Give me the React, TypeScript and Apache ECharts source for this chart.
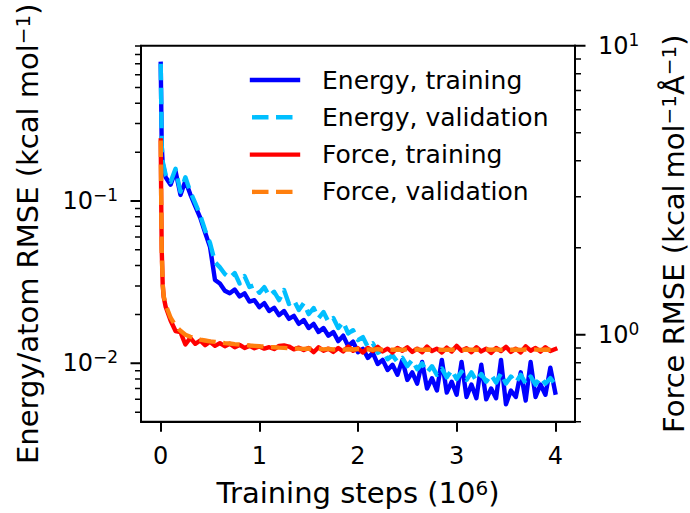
import React, { useEffect, useRef } from "react";
import * as echarts from "echarts";

const FONT = "DejaVu Sans";

// Training steps in units of 10^6
const steps = [
  0, 0.005, 0.01, 0.02, 0.03,
  0.05, 0.1, 0.15, 0.2, 0.25, 0.3, 0.35, 0.4, 0.45, 0.5,
  0.55, 0.6, 0.65, 0.7, 0.75, 0.8, 0.85, 0.9, 0.95, 1,
  1.05, 1.1, 1.15, 1.2, 1.25, 1.3, 1.35, 1.4, 1.45, 1.5,
  1.55, 1.6, 1.65, 1.7, 1.75, 1.8, 1.85, 1.9, 1.95, 2,
  2.05, 2.1, 2.15, 2.2, 2.25, 2.3, 2.35, 2.4, 2.45, 2.5,
  2.55, 2.6, 2.65, 2.7, 2.75, 2.8, 2.85, 2.9, 2.95, 3,
  3.05, 3.1, 3.15, 3.2, 3.25, 3.3, 3.35, 3.4, 3.45, 3.5,
  3.55, 3.6, 3.65, 3.7, 3.75, 3.8, 3.85, 3.9, 3.95, 4,
];

// Energy/atom RMSE (kcal/mol), left axis
const energyTrain = [
  0.7, 0.4, 0.22, 0.17, 0.16,
  0.14, 0.126, 0.153, 0.109, 0.133, 0.11, 0.093, 0.079, 0.064, 0.052,
  0.0326, 0.031, 0.028, 0.027, 0.0285, 0.0258, 0.027, 0.024, 0.0245, 0.0222,
  0.0235, 0.021, 0.022, 0.0198, 0.021, 0.0188, 0.0196, 0.0175, 0.0185, 0.0165,
  0.0175, 0.0156, 0.0165, 0.0148, 0.0156, 0.0137, 0.0148, 0.0128, 0.0136, 0.0117,
  0.0123, 0.0108, 0.0116, 0.0099, 0.0105, 0.0091, 0.0098, 0.0085, 0.0105, 0.0079,
  0.0088, 0.0075, 0.0102, 0.007, 0.0081, 0.0068, 0.0105, 0.0066, 0.0077, 0.0064,
  0.0102, 0.0062, 0.0074, 0.0061, 0.0098, 0.006, 0.007, 0.0061, 0.0105, 0.0056,
  0.0068, 0.0062, 0.0088, 0.0059, 0.0102, 0.0062, 0.0074, 0.0064, 0.0094, 0.0066,
];

const energyVal = [
  0.7, 0.4, 0.22, 0.175, 0.165,
  0.145, 0.131, 0.158, 0.114, 0.14, 0.114, 0.097, 0.082, 0.066, 0.055,
  0.042, 0.039, 0.0355, 0.0336, 0.036, 0.031, 0.0345, 0.0295, 0.0303, 0.0272,
  0.0295, 0.026, 0.0276, 0.0245, 0.0283, 0.0232, 0.0245, 0.0213, 0.0235, 0.0201,
  0.0219, 0.019, 0.0207, 0.018, 0.019, 0.0165, 0.018, 0.0153, 0.016, 0.0139,
  0.0145, 0.0126, 0.0133, 0.0116, 0.0121, 0.0106, 0.0112, 0.0102, 0.0108, 0.0096,
  0.0105, 0.0092, 0.01, 0.0088, 0.0096, 0.0085, 0.0093, 0.0082, 0.0091, 0.008,
  0.0089, 0.0079, 0.0088, 0.0078, 0.0086, 0.0077, 0.0085, 0.0076, 0.0087, 0.0075,
  0.0083, 0.0076, 0.0085, 0.0075, 0.0083, 0.0074, 0.0082, 0.0075, 0.0081, 0.0074,
];

// Force RMSE (kcal/mol/Å), right axis
const forceTrain = [
  4.7, 2.9, 1.97, 1.49, 1.35,
  1.25, 1.12, 1.03, 1.02, 0.925, 0.975, 0.93, 0.955, 0.92, 0.945,
  0.915, 0.935, 0.912, 0.93, 0.905, 0.922, 0.9, 0.915, 0.898, 0.91,
  0.895, 0.905, 0.892, 0.915, 0.918, 0.91, 0.89, 0.902, 0.885, 0.9,
  0.87, 0.905, 0.88, 0.895, 0.872, 0.9, 0.875, 0.91, 0.88, 0.897,
  0.868, 0.9, 0.878, 0.908, 0.875, 0.895, 0.868, 0.9, 0.88, 0.905,
  0.872, 0.895, 0.87, 0.91, 0.878, 0.895, 0.868, 0.902, 0.875, 0.915,
  0.88, 0.898, 0.87, 0.905, 0.875, 0.895, 0.865, 0.9, 0.878, 0.908,
  0.872, 0.895, 0.868, 0.912, 0.88, 0.9, 0.874, 0.905, 0.878, 0.892,
];

const forceVal = [
  4.7, 2.9, 1.97, 1.49, 1.36,
  1.27, 1.145, 1.074, 1.032, 1.0, 0.984, 0.972, 0.962, 0.955, 0.948,
  0.944, 0.94, 0.935, 0.932, 0.928, 0.925, 0.922, 0.918, 0.915, 0.912,
  0.91, 0.906, 0.905, 0.902, 0.9, 0.898, 0.897, 0.895, 0.893, 0.896,
  0.891, 0.894, 0.89, 0.893, 0.889, 0.892, 0.888, 0.891, 0.889, 0.892,
  0.888, 0.89, 0.887, 0.891, 0.888, 0.89, 0.887, 0.889, 0.886, 0.89,
  0.887, 0.889, 0.886, 0.889, 0.887, 0.89, 0.886, 0.888, 0.887, 0.889,
  0.886, 0.889, 0.887, 0.888, 0.886, 0.889, 0.887, 0.89, 0.886, 0.888,
  0.887, 0.889, 0.886, 0.889, 0.887, 0.888, 0.886, 0.889, 0.887, 0.888,
];

// Axis ticks
const xTicks = [0, 1, 2, 3, 4];
const leftMajor = [0.01, 0.1];
const leftMinor = [0.005, 0.006, 0.007, 0.008, 0.009, 0.02, 0.03, 0.04, 0.05, 0.06, 0.07, 0.08, 0.09, 0.2, 0.3, 0.4, 0.5, 0.6, 0.7, 0.8, 0.9];
const rightMajor = [1, 10];
const rightMinor = [0.5, 0.6, 0.7, 0.8, 0.9, 2, 3, 4, 5, 6, 7, 8, 9];
const LEFT_RANGE = [0.00437, 0.905];
const RIGHT_RANGE = [0.5, 10];
const X_RANGE = [-0.2, 4.2];

const legendItems = [
  { name: "Energy, training", color: "#0000ff", dashed: false },
  { name: "Energy, validation", color: "#00bfff", dashed: true },
  { name: "Force, training", color: "#ff0000", dashed: false },
  { name: "Force, validation", color: "#ff7f0e", dashed: true },
];

const EXP: Record<string, string> = { "-2": "−2", "-1": "−1", "0": "0", "1": "1" };
const lg = (v: number) => Math.log10(v);
const pairs = (ys: number[]) => steps.map((x, i) => [x, lg(ys[i])]);

const LW = 4.4;
const DASH = [16.5, 7.5];

export default function App() {
  const ref = useRef<HTMLDivElement>(null);
  useEffect(() => {
    const chart = echarts.init(ref.current!, null, { renderer: "svg" });
    const tickRich = { s: { fontSize: 17, lineHeight: 17, verticalAlign: "top", fontFamily: FONT, color: "#000" } };
    const nameRich = { s: { fontSize: 20, lineHeight: 20, verticalAlign: "top", fontFamily: FONT, color: "#000" } };
    const axisTextStyle = { color: "#000", fontSize: 24, lineHeight: 29, fontFamily: FONT };
    const nameStyle = { color: "#000", fontSize: 29, lineHeight: 30, fontFamily: FONT, rich: nameRich };
    const yBase = (range: number[], position: string) => ({
      type: "value",
      position,
      min: lg(range[0]),
      max: lg(range[1]),
      axisLine: { show: true, onZero: false, lineStyle: { color: "#000", width: 2 } },
      axisTick: { show: false },
      splitLine: { show: false },
    });
    const line = (name: string, ys: number[], color: string, dashed: boolean, yAxisIndex: number, z: number) => ({
      type: "line",
      name,
      data: pairs(ys),
      yAxisIndex,
      xAxisIndex: 0,
      symbol: "none",
      showSymbol: false,
      z,
      lineStyle: { color, width: LW, type: dashed ? DASH : "solid", join: "round", cap: dashed ? "butt" : "square" },
      emphasis: { disabled: true },
    });

    const legendGraphic: any[] = [];
    legendItems.forEach((it, i) => {
      const y = 80 + i * 37.3;
      legendGraphic.push({
        type: "line",
        shape: { x1: 252, y1: y, x2: 298, y2: y },
        style: { stroke: it.color, lineWidth: LW, lineDash: it.dashed ? DASH : null, lineCap: it.dashed ? "butt" : "square" },
        z: 10,
      });
      legendGraphic.push({
        type: "text",
        x: 322,
        y,
        style: { text: it.name, fill: "#000", fontSize: 25, fontFamily: FONT, align: "left", verticalAlign: "middle" },
        z: 10,
      });
    });

    chart.setOption({
      animation: false,
      backgroundColor: "#fff",
      grid: {
        left: 141,
        right: 115,
        top: 45.7,
        bottom: 91.3,
        show: true,
        borderColor: "#000",
        borderWidth: 2,
        backgroundColor: "transparent",
        containLabel: false,
        outerBoundsMode: "none",
      },
      xAxis: [
        {
          type: "value",
          min: X_RANGE[0],
          max: X_RANGE[1],
          axisLine: { show: true, onZero: false, lineStyle: { color: "#000", width: 2 } },
          splitLine: { show: false },
          axisTick: { show: true, length: 10, customValues: xTicks, lineStyle: { color: "#000", width: 2 } },
          axisLabel: { ...axisTextStyle, margin: 20, customValues: xTicks, formatter: (v: number) => String(v) },
          name: "Training steps (10{s|6})",
          nameLocation: "middle",
          nameGap: 56,
          nameTextStyle: nameStyle,
        },
      ],
      yAxis: [
        {
          ...yBase(LEFT_RANGE, "left"),
          axisLabel: {
            ...axisTextStyle,
            rich: tickRich,
            margin: 23,
            customValues: leftMajor.map(lg),
            formatter: (v: number) => "10{s|" + EXP[String(Math.round(v))] + "}",
          },
          name: "Energy/atom RMSE (kcal mol{s|−1})",
          nameLocation: "middle",
          nameRotate: 90,
          nameGap: 98,
          nameTextStyle: nameStyle,
        },
        {
          ...yBase(RIGHT_RANGE, "right"),
          axisLabel: {
            ...axisTextStyle,
            rich: tickRich,
            margin: 23,
            customValues: rightMajor.map(lg),
            formatter: (v: number) => "10{s|" + EXP[String(Math.round(v))] + "}",
          },
          name: "Force RMSE (kcal\u2009mol{s|−1}Å{s|−1})",
          nameLocation: "middle",
          nameRotate: 90,
          nameGap: 84,
          nameTextStyle: nameStyle,
        },
      ],
      series: [
        line("Energy, training", energyTrain, "#0000ff", false, 0, 2),
        line("Energy, validation", energyVal, "#00bfff", true, 0, 3),
        line("Force, training", forceTrain, "#ff0000", false, 1, 4),
        line("Force, validation", forceVal, "#ff7f0e", true, 1, 5),
      ],
      graphic: legendGraphic,
    });

    // Log-axis ticks: one comb-shaped polyline per side and tick size,
    // positioned through the chart's own axis scales.
    const comb = (vals: number[], len: number, width: number, yAxisIndex: number, side: number) => {
      const xr: any = chart.convertToPixel({ xAxisIndex: 0 } as any, side < 0 ? X_RANGE[0] : X_RANGE[1]);
      const x = +(Array.isArray(xr) ? xr[0] : xr);
      const ys = vals
        .map((v) => {
          const yr: any = chart.convertToPixel({ yAxisIndex } as any, lg(v));
          return +(Array.isArray(yr) ? yr[1] : yr);
        })
        .filter((y) => isFinite(y))
        .sort((a, b) => a - b);
      const points: number[][] = [];
      ys.forEach((y) => {
        points.push([x, y], [x + side * len, y], [x, y]);
      });
      return {
        type: "polyline",
        shape: { points },
        style: { stroke: "#000", lineWidth: width, fill: null, lineJoin: "miter", lineCap: "butt" },
        silent: true,
        z: 20,
      };
    };
    const tickGraphic = [
      comb(leftMajor, 10.5, 2, 0, -1),
      comb(leftMinor, 6, 1.5, 0, -1),
      comb(rightMajor, 10.5, 2, 1, 1),
      comb(rightMinor, 6, 1.5, 1, 1),
    ];
    chart.setOption({ graphic: [...legendGraphic, ...tickGraphic] });

    return () => chart.dispose();
  }, []);
  return <div ref={ref} style={{ position: "absolute", left: 0, top: 0, width: 690, height: 513 }} />;
}
